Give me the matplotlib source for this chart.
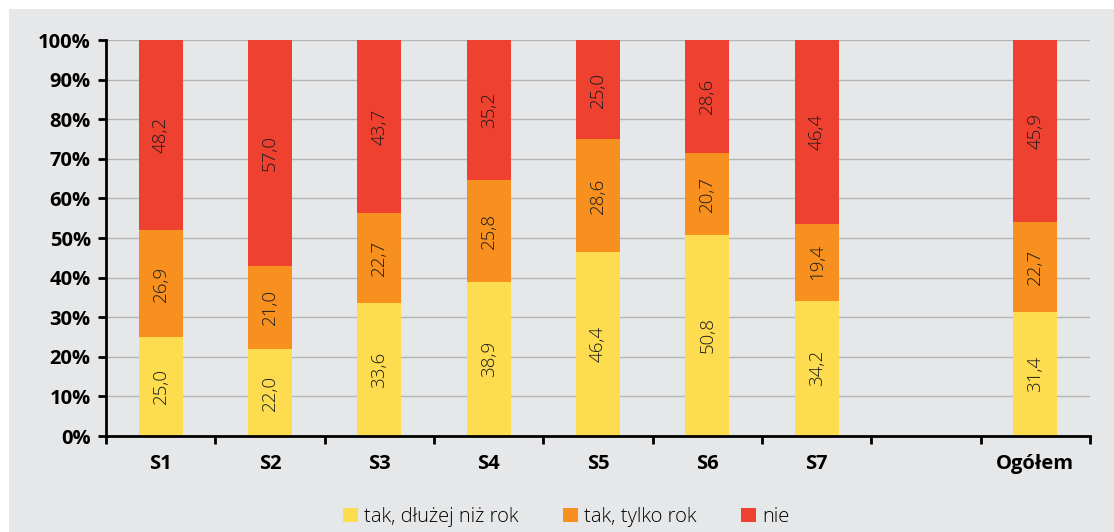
import matplotlib
matplotlib.use("Agg")
import matplotlib.pyplot as plt
from matplotlib.patches import Rectangle, Patch
import numpy as np

categories = ["S1", "S2", "S3", "S4", "S5", "S6", "S7", "", "Ogółem"]
tak_dluzej = [25.0, 22.0, 33.6, 38.9, 46.4, 50.8, 34.2, None, 31.4]
tak_rok = [26.9, 21.0, 22.7, 25.8, 28.6, 20.7, 19.4, None, 22.7]
nie = [48.2, 57.0, 43.7, 35.2, 25.0, 28.6, 46.4, None, 45.9]
series_names = ["tak, dłużej niż rok", "tak, tylko rok", "nie"]
colors = ["#fddc4f", "#f7901e", "#ef4130"]
yticks = [0, 10, 20, 30, 40, 50, 60, 70, 80, 90, 100]
ytick_labels = [f"{v}%" for v in yticks]

plt.rcParams['font.family'] = ['Open Sans', 'DejaVu Sans']

fig = plt.figure(figsize=(11.14, 5.32), dpi=100)
bg = Rectangle((9/1114, 0), 1 - 9/1114, 523/532, transform=fig.transFigure,
               facecolor="#e6e7e9", edgecolor="none", zorder=-10)
fig.add_artist(bg)
ax = fig.add_axes([106/1114, (532-436)/532, (1090-106)/1114, (436-40)/532])
ax.set_facecolor("none")
ax.set_zorder(1)

x = np.arange(len(categories))
width = 0.4
series = [tak_dluzej, tak_rok, nie]
bottom = np.zeros(len(categories))
for vals, col in zip(series, colors):
    v = np.array([0 if a is None else a for a in vals], dtype=float)
    ax.bar(x, v, width, bottom=bottom, color=col, zorder=3)
    for i, a in enumerate(vals):
        if a is None:
            continue
        ax.text(x[i], bottom[i] + a / 2, f"{a:.1f}".replace(".", ","), rotation=90,
                ha="center", va="center", fontsize=13.5, color="#1a1a1a",
                fontweight="light", zorder=4)
    bottom += v

ax.set_xlim(-0.5, len(categories) - 0.5)
ax.set_ylim(0, 100)
ax.set_yticks(yticks)
ax.set_yticklabels(ytick_labels, fontsize=14.5, fontweight="bold")
ax.set_xticks(x)
ax.set_xticklabels(categories, fontsize=14.5, fontweight="bold")
ax.set_xticks(np.arange(-0.5, len(categories) + 0.5, 1), minor=True)
ax.tick_params(axis="x", which="major", length=0, pad=13)
ax.tick_params(axis="x", which="minor", length=6, width=2, direction="out")
ax.tick_params(axis="y", length=6, width=2, direction="out", pad=5)
ax.grid(axis="y", color="#b5b5b5", linewidth=1, zorder=1)
for s in ["top", "right"]:
    ax.spines[s].set_visible(False)
for s in ["left", "bottom"]:
    ax.spines[s].set_linewidth(2)
    ax.spines[s].set_color("black")
    ax.spines[s].set_zorder(5)

handles = [Patch(facecolor=c, edgecolor="none") for c in colors]
fig.legend(handles, series_names, loc="center", bbox_to_anchor=(566/1114, (532-517)/532),
           ncol=3, frameon=False, handlelength=0.75, handleheight=0.75,
           handletextpad=0.3, columnspacing=2.2,
           prop={"family": ["Open Sans"], "size": 14.5, "weight": "light"})

fig.savefig("out.png", dpi=100)
